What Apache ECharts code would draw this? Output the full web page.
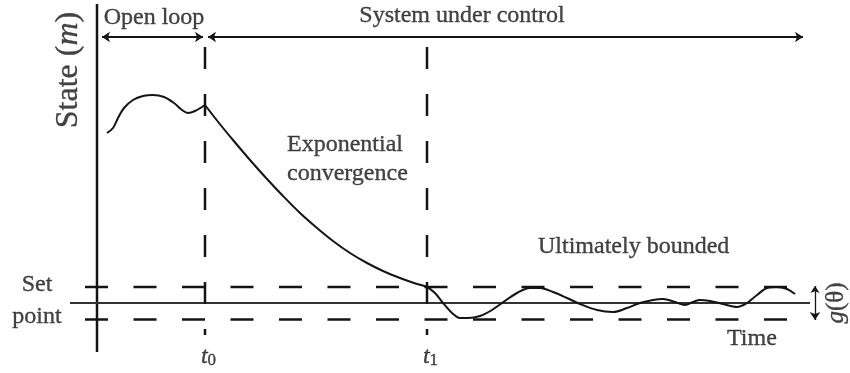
<!DOCTYPE html>
<html>
<head>
<meta charset="utf-8">
<script src="https://cdn.jsdelivr.net/npm/echarts@6/dist/echarts.min.js"></script>
<style>
  html, body { margin: 0; padding: 0; background: #ffffff; }
  #chart { width: 850px; height: 373px; }
</style>
</head>
<body>
<div id="chart"></div>
<script>
// Trajectory of the state over time (arbitrary units, set point = 0)
const openLoopTime  = [1.0, 1.6, 2.1, 2.7, 3.6, 4.6, 5.6, 6.7, 7.7, 8.5, 9.1, 9.8, 10.8];
const openLoopState = [17.0, 17.5, 18.5, 19.5, 20.3, 20.7, 20.8, 20.6, 20.0, 19.3, 19.0, 19.2, 19.8];

const controlTime  = [10.8, 12.2, 13.6, 15.3, 17.0, 18.6, 20.3, 22.0, 23.6, 25.3, 27.0, 28.6, 30.3, 31.7, 33.0,
                      33.8, 34.6, 35.5, 36.3, 37.1, 38.3, 39.5, 40.5,
                      42.0, 43.3, 44.3, 45.6, 47.0, 48.3, 50.0, 51.6,
                      53.0, 54.3, 55.6, 56.6, 57.8, 58.8, 59.6, 60.3,
                      61.3, 62.6, 64.0, 65.0, 66.0, 67.0, 68.0, 69.0, 69.8];
const controlState = [19.8, 18.0, 16.3, 14.3, 12.4, 10.7, 9.0, 7.5, 6.2, 5.0, 4.0, 3.2, 2.5, 2.0, 1.6,
                      1.0, 0.0, -1.0, -1.5, -1.5, -1.3, -0.7, 0.0,
                      1.0, 1.5, 1.5, 1.1, 0.5, -0.1, -0.7, -0.9,
                      -0.5, 0.0, 0.3, 0.4, 0.1, -0.2, 0.1, 0.3,
                      0.2, -0.1, -0.4, 0.0, 0.8, 1.5, 1.6, 1.4, 0.9];

const setPoint     = 0;
const bandLimits   = [1.6, -1.65];        // ultimate bound g(θ) around the set point
const switchTimes  = [10.8, 33.0];        // t0: control switched on, t1: band reached
const switchNames  = ['0', '1'];          // subscripts of t
const phaseNames   = ['Open loop', 'System under control'];

const FONT = "'Liberation Serif', 'DejaVu Serif', serif";
const INK = '#141414';
const TEXT = '#151515';

function zip(xs, ys) { return xs.map((x, i) => [x, ys[i]]); }

function plainLine(data, style) {
  return {
    type: 'line', data: data, symbol: 'none', silent: true,
    animation: false, lineStyle: style, z: 2
  };
}

const series = [];

// State axis
series.push(plainLine([[0, -4.9], [0, 29.9]], { color: INK, width: 2.5 }));

// Set point / time axis
const setPointLine = plainLine([[-2.7, setPoint], [71.3, setPoint]], { color: '#333333', width: 2 });
setPointLine.markLine = {
  silent: true, animation: false,
  symbol: ['arrow', 'arrow'], symbolSize: 8,
  label: { show: false },
  lineStyle: { color: INK, width: 1.8, type: 'solid' },
  data: [
    [{ coord: [0.5, 26.6] }, { coord: [switchTimes[0] - 0.2, 26.6] }],
    [{ coord: [switchTimes[0] + 0.3, 26.6] }, { coord: [70.6, 26.6] }],
    [{ coord: [71.8, bandLimits[0] + 0.1], lineStyle: { width: 1.3 }, symbolSize: 7 },
     { coord: [71.8, bandLimits[1] - 0.05] }]
  ]
};
series.push(setPointLine);

// Bound band (dashed)
bandLimits.forEach(b => {
  series.push(plainLine([[-1.2, b], [69.1, b]], { color: INK, width: 2.5, type: [23, 25.5] }));
});

// Switching instants (dashed)
switchTimes.forEach(t => {
  series.push(plainLine([[t, 25.6], [t, -3.2]], { color: INK, width: 2.5, type: [22, 25] }));
});

// Trajectory
series.push(Object.assign(plainLine(zip(openLoopTime, openLoopState), { color: INK, width: 2 }), { smooth: 0.35, z: 3 }));
series.push(Object.assign(plainLine(zip(controlTime, controlState), { color: INK, width: 2 }), { smooth: 0.35, z: 3 }));

// Annotations
const stroke = { textBorderColor: TEXT, textBorderWidth: 0.35 };
const baseText = Object.assign({ fontFamily: FONT, fontSize: 24, color: TEXT }, stroke);
const rich = {
  i:   Object.assign({ fontFamily: FONT, fontSize: 24, fontStyle: 'italic', color: TEXT, lineHeight: 24, verticalAlign: 'bottom' }, stroke),
  sub: Object.assign({ fontFamily: FONT, fontSize: 17, color: TEXT, lineHeight: 13, verticalAlign: 'bottom' }, stroke),
  big: Object.assign({ fontFamily: FONT, fontSize: 32, color: TEXT }, stroke),
  bigi:Object.assign({ fontFamily: FONT, fontSize: 32, fontStyle: 'italic', color: TEXT }, stroke),
  g:   Object.assign({ fontFamily: FONT, fontSize: 25, fontStyle: 'italic', color: TEXT }, stroke),
  gp:  Object.assign({ fontFamily: FONT, fontSize: 25, color: TEXT }, stroke)
};

function note(x, y, text, extra) {
  return {
    value: [x, y],
    label: Object.assign({ show: true, position: 'inside', formatter: text, align: 'center', verticalAlign: 'middle' }, baseText, { rich: rich }, extra || {})
  };
}

const notes = [
  note(5.7, 28.5, phaseNames[0]),
  note(36.5, 28.7, phaseNames[1]),
  note(19.0, 15.8, 'Exponential', { align: 'left' }),
  note(19.0, 12.9, 'convergence', { align: 'left' }),
  note(44.1, 5.6, 'Ultimately bounded', { align: 'left' }),
  note(63.0, -3.6, 'Time', { align: 'left' }),
  note(-6.0, 1.8, 'Set'),
  note(-6.0, -1.4, 'point'),
  note(-2.8, 23.3, '{big|State (}{bigi|m}{big|)}', { rotate: 90 }),
  note(73.9, setPoint, '{g|g}{gp|(θ)}', { rotate: 90 })
];
switchTimes.forEach((t, k) => {
  notes.push(note(t + 0.35, -5.4, '{i|t}{sub|' + switchNames[k] + '}'));
});

series.push({
  type: 'scatter', data: notes, symbolSize: 1, silent: true, animation: false,
  itemStyle: { color: 'rgba(0,0,0,0)' }, z: 5
});

const chart = echarts.init(document.getElementById('chart'), null, { renderer: 'canvas' });
chart.setOption({
  backgroundColor: '#ffffff',
  animation: false,
  grid: { left: 0, right: 0, top: 0, bottom: 0 },
  xAxis: { type: 'value', min: -9.7, max: 75.3, show: false },
  yAxis: { type: 'value', min: -7, max: 30.3, show: false },
  series: series
});
</script>
</body>
</html>
